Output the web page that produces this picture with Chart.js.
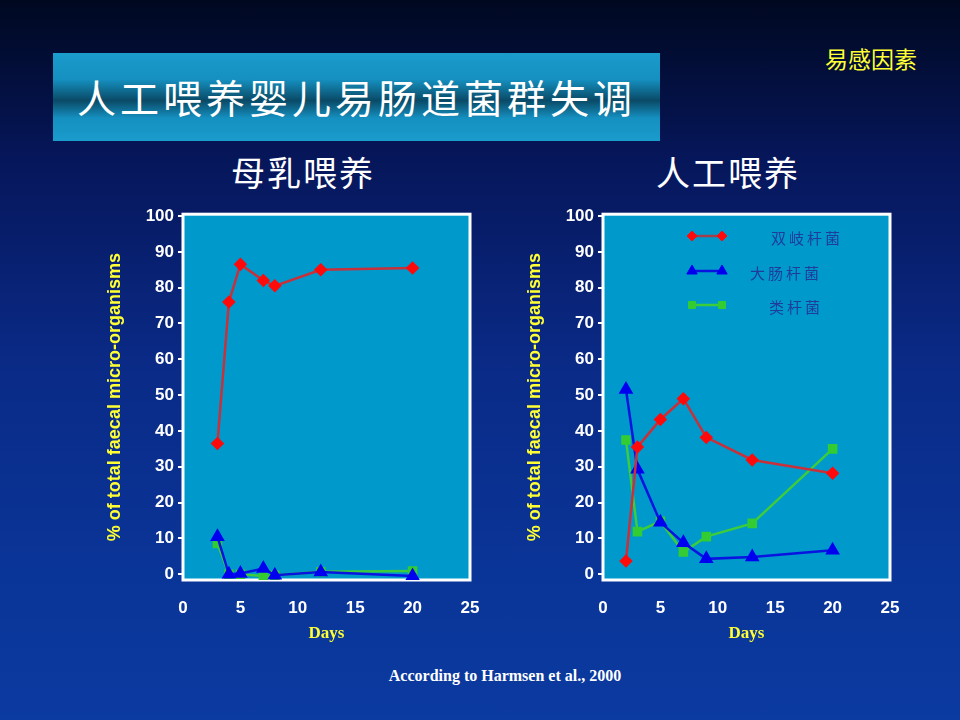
<!DOCTYPE html>
<html>
<head>
<meta charset="utf-8">
<script src="https://cdn.jsdelivr.net/npm/chart.js@4"></script>
<style>
    html, body { margin: 0; padding: 0; }
    body {
        width: 960px; height: 720px; position: relative; overflow: hidden;
        background: linear-gradient(to bottom, #000820 0%, #06165a 22%, #0a2a86 50%, #0a3598 80%, #0b3aa0 100%);
        font-family: "Liberation Sans", Arial, sans-serif;
    }
    .title-box {
        position: absolute; left: 53px; top: 53px; width: 607px; height: 88px;
        background: linear-gradient(to bottom, #1a9ccc 0%, #1590c0 30%, #0a4a66 54%, #1590c0 74%, #1a9ccc 100%);
        color: #fff; font-family: "Noto Sans CJK SC", sans-serif; font-size: 39px;
        line-height: 86px; text-align: center; letter-spacing: 4px;
    }
    .tag { position: absolute; left: 825px; top: 41px; color: #ffff33; font-size: 23px;
        font-family: "Noto Sans CJK SC", sans-serif; }
    .sub { position: absolute; top: 147px; width: 300px; text-align: center; color: #fff;
        font-family: "Noto Sans CJK SC", sans-serif; font-size: 34px; letter-spacing: 2px; }
    .note { position: absolute; top: 667px; left: 305px; width: 400px; text-align: center;
        color: #fff; font-family: "Liberation Serif", serif; font-weight: bold; font-size: 16px; }
    canvas { position: absolute; }
</style>
</head>
<body>
<div class="title-box">人工喂养婴儿易肠道菌群失调</div>
<div class="tag">易感因素</div>
<div class="sub" style="left:153px;">母乳喂养</div>
<div class="sub" style="left:578px;">人工喂养</div>
<canvas id="breastChart" style="left:100px; top:200px; width:390px; height:450px;"></canvas>
<canvas id="formulaChart" style="left:520px; top:200px; width:390px; height:450px;"></canvas>
<div class="note">According to Harmsen et al., 2000</div>
<script>
// Series names
const seriesNames = ['双岐杆菌', '大肠杆菌', '类杆菌'];

// Breast-fed (母乳喂养)
const breastDays = [3, 4, 5, 7, 8, 12, 20];
const breastBifido = [36.5, 76, 86.5, 82, 80.5, 85, 85.5];
const breastEcoli = [10.5, 0, 0.2, 1.6, -0.3, 0.6, -0.5];
const breastBactero = [8.6, 0, 0, -0.5, -0.3, 0.7, 0.9];

// Formula-fed (人工喂养)
const formulaDays = [2, 3, 5, 7, 9, 13, 20];
const formulaBifido = [3.7, 35.5, 43.2, 49, 38.2, 31.9, 28.2];
const formulaEcoli = [51.6, 29.3, 14.5, 8.8, 4.3, 4.8, 6.7];
const formulaBactero = [37.5, 11.9, 14.8, 6.2, 10.5, 14.2, 35];

// Axis ticks
const xTicks = [0, 5, 10, 15, 20, 25];
const yTicks = [0, 10, 20, 30, 40, 50, 60, 70, 80, 90, 100];

const styles = [
    { line: '#c8303a', point: '#ff0a0a', shape: 'rectRot', radius: 5 },
    { line: '#0a14e0', point: '#0000f0', shape: 'triangle', radius: 6 },
    { line: '#3ccc3c', point: '#33cc33', shape: 'rect', radius: 5 }
];

function toPoints(xs, ys) {
    return xs.map((x, i) => ({ x: x, y: ys[i] }));
}

// Plot area fill and white frame
const frame = {
    id: 'frame',
    beforeDatasetsDraw(chart) {
        const a = chart.chartArea, ctx = chart.ctx;
        ctx.save();
        ctx.fillStyle = '#0099cc';
        ctx.fillRect(a.left, a.top, a.right - a.left, a.bottom - a.top);
        ctx.strokeStyle = '#ffffff';
        ctx.lineWidth = 3;
        ctx.strokeRect(a.left, a.top, a.right - a.left, a.bottom - a.top);
        ctx.restore();
    }
};

// Legend drawn inside the plot (formula chart only)
const innerLegend = {
    id: 'innerLegend',
    afterDatasetsDraw(chart, args, opts) {
        if (!opts.show) return;
        const ctx = chart.ctx;
        const rows = [
            { y: 36, tx: 251 },
            { y: 71, tx: 230 },
            { y: 105, tx: 249 }
        ];
        ctx.save();
        rows.forEach((r, i) => {
            const s = styles[i];
            ctx.strokeStyle = i === 0 ? '#a0404c' : s.line;
            ctx.lineWidth = 2.5;
            ctx.beginPath();
            ctx.moveTo(172, r.y);
            ctx.lineTo(202, r.y);
            ctx.stroke();
            ctx.fillStyle = s.point;
            ctx.strokeStyle = s.point;
            ctx.lineWidth = 1;
            [172, 202].forEach(px => {
                Chart.helpers.drawPoint(ctx, { pointStyle: s.shape, radius: s.radius, borderWidth: 1 }, px, r.y);
            });
            ctx.fillStyle = '#1d3c9c';
            ctx.font = '15px "Noto Sans CJK SC"';
            ctx.textBaseline = 'middle';
            ctx.letterSpacing = '3px';
            ctx.fillText(seriesNames[i], r.tx, r.y + 2);
        });
        ctx.restore();
    }
};

function makeChart(id, days, series, showLegend) {
    const ctx = document.getElementById(id).getContext('2d');
    return new Chart(ctx, {
        type: 'line',
        data: {
            datasets: series.map((vals, i) => ({
                label: seriesNames[i],
                data: toPoints(days, vals),
                borderColor: styles[i].line,
                backgroundColor: styles[i].point,
                pointBackgroundColor: styles[i].point,
                pointBorderColor: styles[i].point,
                pointStyle: styles[i].shape,
                pointRadius: styles[i].radius,
                borderWidth: 2.5,
                tension: 0
            }))
        },
        options: {
            responsive: false,
            animation: false,
            layout: { padding: { top: 13, right: 20, left: 0, bottom: 0 } },
            scales: {
                x: {
                    type: 'linear',
                    min: 0,
                    max: 25,
                    afterBuildTicks: axis => { axis.ticks = xTicks.map(v => ({ value: v })); },
                    afterFit: axis => { axis.height = 70; },
                    border: { display: false },
                    grid: { display: false },
                    ticks: {
                        color: '#ffffff',
                        font: { family: '"Liberation Sans", Arial', size: 17, weight: 'bold' },
                        padding: 10
                    },
                    title: {
                        display: true,
                        text: 'Days',
                        color: '#ffff33',
                        font: { family: '"Liberation Serif", serif', size: 17, weight: 'bold' },
                        padding: { top: 4, bottom: 6 }
                    }
                },
                y: {
                    min: -1.6,
                    max: 100.5,
                    afterBuildTicks: axis => { axis.ticks = yTicks.map(v => ({ value: v })); },
                    afterFit: axis => { axis.width = 83; },
                    border: { display: false },
                    grid: { drawOnChartArea: false, drawTicks: true, tickLength: 5, color: '#ffffff', lineWidth: 2 },
                    ticks: {
                        color: '#ffffff',
                        font: { family: '"Liberation Sans", Arial', size: 17, weight: 'bold' },
                        padding: 4
                    },
                    title: {
                        display: true,
                        text: '% of total faecal micro-organisms',
                        color: '#ffff33',
                        font: { family: '"Liberation Sans", Arial', size: 18, weight: 'bold' },
                        padding: { top: 4, bottom: 0 }
                    }
                }
            },
            plugins: {
                legend: { display: false },
                tooltip: { enabled: false },
                innerLegend: { show: showLegend }
            }
        },
        plugins: [frame, innerLegend]
    });
}

document.addEventListener('DOMContentLoaded', function() {
    makeChart('breastChart', breastDays, [breastBifido, breastEcoli, breastBactero], false);
    makeChart('formulaChart', formulaDays, [formulaBifido, formulaEcoli, formulaBactero], true);
});
</script>
</body>
</html>
